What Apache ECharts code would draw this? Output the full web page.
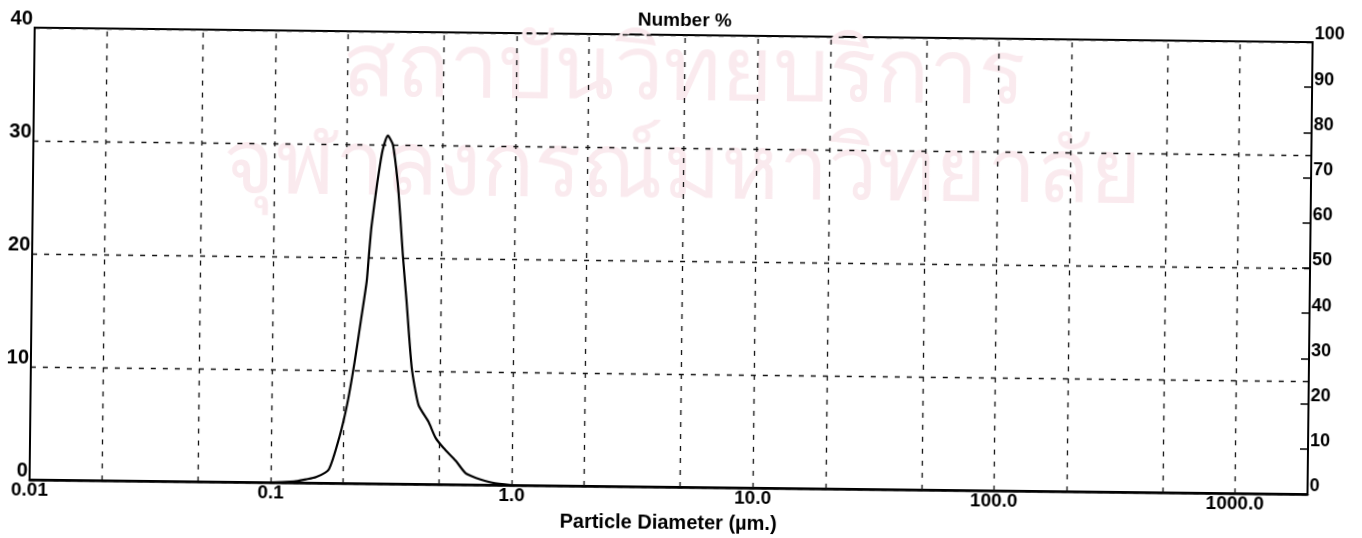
<!DOCTYPE html>
<html>
<head>
<meta charset="utf-8">
<script src="https://cdn.jsdelivr.net/npm/echarts@6/dist/echarts.min.js"></script>
<style>
html,body{margin:0;padding:0;background:#fff;}
#chart{width:1362px;height:538px;transform:rotate(0.65deg);transform-origin:50% 50%;}
</style>
</head>
<body>
<div id="chart"></div>
<script>
// Particle diameter (µm) and Number %
const diameters = [0.01, 0.05, 0.10, 0.125, 0.14, 0.154, 0.174, 0.192, 0.206, 0.220, 0.233, 0.245, 0.250, 0.255, 0.268, 0.281, 0.295, 0.310, 0.326, 0.335, 0.345, 0.359, 0.380, 0.407, 0.449, 0.481, 0.52, 0.584, 0.643, 0.71, 0.83, 1.0];
const numberPct = [0, 0, 0, 0.1, 0.3, 0.5, 1.2, 4.1, 7.0, 10.7, 14.5, 17.9, 20.5, 22.8, 26.6, 29.5, 30.8, 30.0, 26.6, 23.7, 20.2, 16.2, 10.3, 7.0, 5.5, 4.1, 3.2, 2.1, 1.0, 0.6, 0.2, 0];
const xTickLabels = {0.01: '0.01', 0.1: '0.1', 1: '1.0', 10: '10.0', 100: '100.0', 1000: '1000.0'};
const xGridValues = [0.02, 0.05, 0.1, 0.2, 0.5, 1, 2, 5, 10, 20, 50, 100, 200, 500, 1000];
const leftTicks = [0, 10, 20, 30, 40];
const rightTicks = [0, 10, 20, 30, 40, 50, 60, 70, 80, 90, 100];
const watermark = ['สถาบันวิทยบริการ', 'จุฬาลงกรณ์มหาวิทยาลัย'];

const chart = echarts.init(document.getElementById('chart'));
const font = '"Liberation Sans", Arial, sans-serif';
const dash = {color: '#111', width: 1.3, type: [5, 7]};

chart.setOption({
  animation: false,
  title: {
    text: 'Number %', left: 630, top: 6,
    textStyle: {fontFamily: font, fontSize: 19, fontWeight: 'bold', color: '#000'}
  },
  graphic: [
    {type: 'text', left: 'center', top: 30, z: 0, silent: true,
     style: {text: watermark[0], font: '88px "Noto Sans", "DejaVu Sans", sans-serif', fill: '#faeaee'}},
    {type: 'text', left: 'center', top: 128, z: 0, silent: true,
     style: {text: watermark[1], font: '88px "Noto Sans", "DejaVu Sans", sans-serif', fill: '#faeaee'}}
  ],
  grid: {left: 32, right: 52, top: 35, bottom: 40, show: true, borderColor: '#000', borderWidth: 2, backgroundColor: 'transparent'},
  xAxis: {
    type: 'log', logBase: 10, min: 0.01, max: 2000,
    name: 'Particle Diameter (µm.)', nameLocation: 'middle', nameGap: 26,
    nameTextStyle: {fontFamily: font, fontSize: 20, fontWeight: 'bold', color: '#000'},
    axisLine: {show: true, lineStyle: {color: '#000', width: 2.5}},
    axisTick: {show: false},
    splitLine: {show: false},
    axisLabel: {
      margin: 1, fontFamily: font, fontSize: 19, fontWeight: 'bold', color: '#000',
      showMinLabel: true, showMaxLabel: true,
      formatter: function (v) {
        for (const k in xTickLabels) { if (Math.abs(Math.log10(v) - Math.log10(+k)) < 1e-6) return xTickLabels[k]; }
        return '';
      }
    }
  },
  yAxis: [
    {
      type: 'value', min: 0, max: 40, interval: 10, position: 'left',
      axisLine: {show: true, lineStyle: {color: '#000', width: 2}},
      axisTick: {show: false},
      splitLine: {show: true, lineStyle: dash},
      axisLabel: {margin: 2, verticalAlign: 'bottom', lineHeight: 17, fontFamily: font, fontSize: 20, fontWeight: 'bold', color: '#000',
        formatter: function (v) { return leftTicks.indexOf(v) >= 0 ? String(v) : ''; }}
    },
    {
      type: 'value', min: 0, max: 100, interval: 10, position: 'right',
      axisLine: {show: true, lineStyle: {color: '#000', width: 2}},
      axisTick: {show: true, inside: true, length: 8, lineStyle: {color: '#000', width: 1.5}},
      splitLine: {show: false},
      axisLabel: {margin: 2, verticalAlign: 'bottom', lineHeight: 15, fontFamily: font, fontSize: 18, fontWeight: 'bold', color: '#000',
        formatter: function (v) { return rightTicks.indexOf(v) >= 0 ? String(v) : ''; }}
    }
  ],
  series: [
    {
      type: 'line', name: 'Number %', yAxisIndex: 0, z: 5,
      data: diameters.map((d, i) => [d, numberPct[i]]),
      showSymbol: false, smooth: 0.2,
      lineStyle: {color: '#000', width: 2.2},
      markLine: {
        silent: true, symbol: 'none', label: {show: false},
        lineStyle: dash,
        data: xGridValues.map(v => ({xAxis: v}))
      }
    }
  ]
});
</script>
</body>
</html>
